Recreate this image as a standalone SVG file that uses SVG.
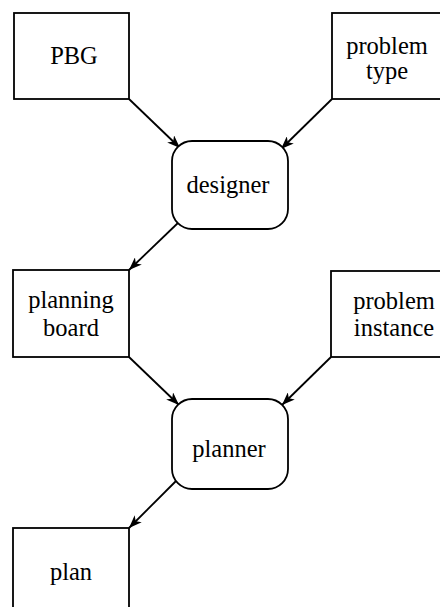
<svg xmlns="http://www.w3.org/2000/svg" width="440" height="607" viewBox="0 0 440 607">
<style>
.box{fill:#fff;stroke:#000;stroke-width:1.8}
.lbl{font-family:"Liberation Serif","Times New Roman",serif;font-size:24.5px;fill:#000;text-anchor:middle}
.edge{stroke:#000;stroke-width:1.8;fill:none;marker-end:url(#ah)}
</style>
<defs>
<marker id="ah" markerUnits="userSpaceOnUse" markerWidth="14" markerHeight="10" refX="13" refY="5" orient="auto">
<path d="M0,0 L13,5 L0,10 L3.5,5 z" fill="#000"/>
</marker>
</defs>
<rect width="440" height="607" fill="#fff"/>
<g id="connectors">
<line class="edge" x1="129" y1="99" x2="180" y2="148"/>
<line class="edge" x1="332" y1="99" x2="281" y2="149"/>
<line class="edge" x1="180" y1="221" x2="129" y2="270"/>
<line class="edge" x1="129" y1="357" x2="179" y2="405"/>
<line class="edge" x1="331" y1="357" x2="282" y2="405"/>
<line class="edge" x1="179" y1="478" x2="129" y2="528"/>
</g>
<g id="PBG">
<rect class="box" x="14" y="13" width="115" height="86"/>
<text class="lbl" x="74" y="64">PBG</text>
</g>
<g id="problem-type">
<rect class="box" x="332" y="13" width="115" height="86"/>
<text class="lbl" x="387" y="54">problem</text>
<text class="lbl" x="387" y="79">type</text>
</g>
<g id="designer">
<rect class="box" x="172" y="141" width="116" height="88" rx="20" ry="20"/>
<text class="lbl" x="228" y="193">designer</text>
</g>
<g id="planning-board">
<rect class="box" x="13" y="270" width="116" height="87"/>
<text class="lbl" x="71" y="308">planning</text>
<text class="lbl" x="71" y="336">board</text>
</g>
<g id="problem-instance">
<rect class="box" x="331" y="271" width="116" height="86"/>
<text class="lbl" x="394" y="309">problem</text>
<text class="lbl" x="394" y="336">instance</text>
</g>
<g id="planner">
<rect class="box" x="172" y="399" width="116" height="90" rx="20" ry="20"/>
<text class="lbl" x="229" y="457">planner</text>
</g>
<g id="plan">
<rect class="box" x="13" y="528" width="116" height="100"/>
<text class="lbl" x="71" y="580">plan</text>
</g>
</svg>
